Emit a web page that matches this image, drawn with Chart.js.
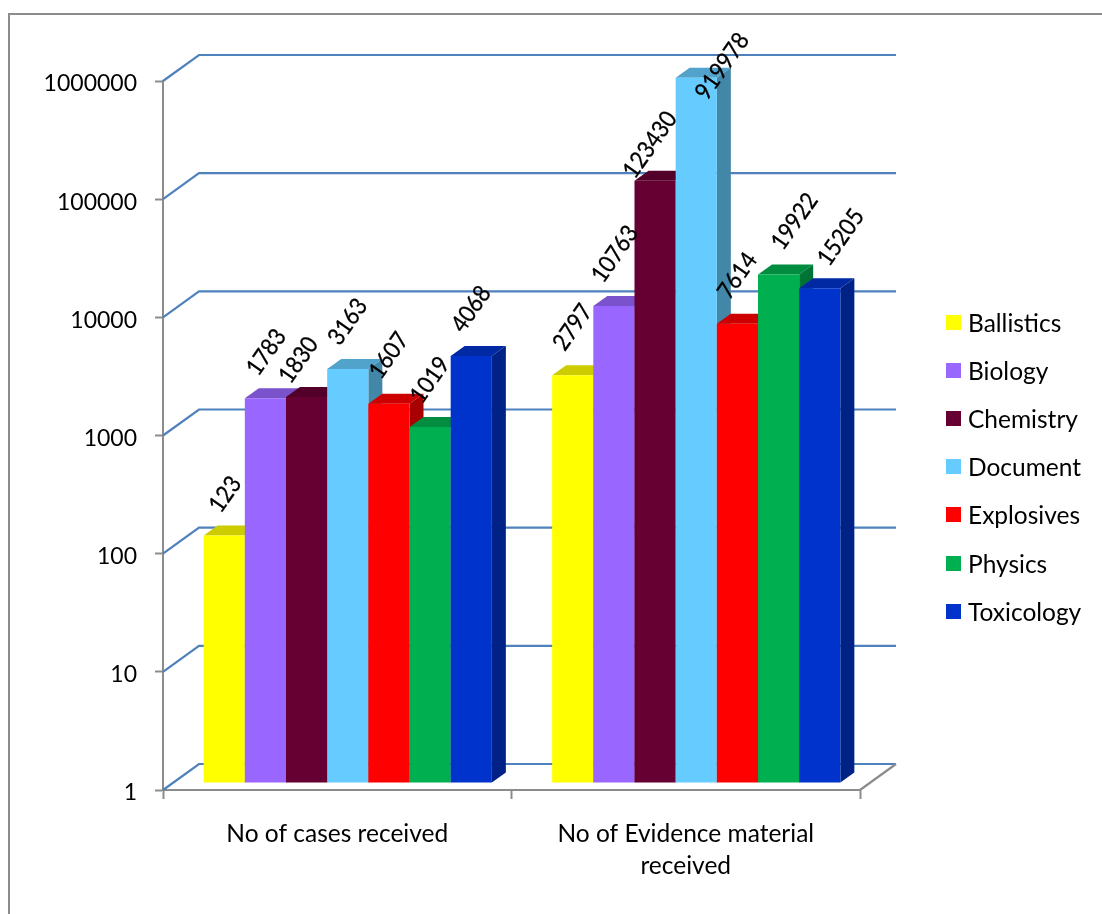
<!DOCTYPE html>
<html>
<head>
<meta charset="utf-8">
<title>Cases and evidence received</title>
<script src="https://cdn.jsdelivr.net/npm/chart.js@4"></script>
<style>
    html, body { margin: 0; padding: 0; background: #fff; }
    #wrap { position: relative; width: 1102px; height: 914px; overflow: hidden; }
    #frame { position: absolute; left: 8px; top: 13px; right: -4px; bottom: -4px;
             border: 2px solid #8c8c8c; }
    canvas { position: absolute; left: 0; top: 0; }
    #legend { position: absolute; left: 946px; top: 298px; margin: 0; padding: 0; list-style: none;
              font: 24.5px Lato, sans-serif; color: #000; }
    #legend li { display: flex; align-items: center; height: 48.2px; white-space: nowrap; }
    #legend span { display: inline-block; width: 15px; height: 15px; margin-right: 7px; }
</style>
</head>
<body>
<div id="wrap">
    <div id="frame"></div>
    <canvas id="chart" width="1102" height="914"></canvas>
    <ul id="legend"></ul>
</div>
<script>
const categories = ["No of cases received", ["No of Evidence material", "received"]];
const seriesNames = ["Ballistics", "Biology", "Chemistry", "Document", "Explosives", "Physics", "Toxicology"];
const ballistics = [123, 2797];
const biology = [1783, 10763];
const chemistry = [1830, 123430];
const documents = [3163, 919978];
const explosives = [1607, 7614];
const physics = [1019, 19922];
const toxicology = [4068, 15205];
const yTicks = [1, 10, 100, 1000, 10000, 100000, 1000000];

const seriesColours = ["#ffff00", "#9966ff", "#660033", "#66ccff", "#ff0000", "#00b050", "#0033cc"];
const fontFamily = "Lato, sans-serif";
const digitSize = 23;
const wordSize = 24.5;

// how far the back wall and the bars sit behind the axis plane
const wall = { dx: 36, dy: -26 };
const barShift = { dx: 10.5, dy: -7.5 };
const barDepth = { dx: 14, dy: -10 };

// hand placed value labels, [dx, dy] from the top centre of each bar
const labelNudges = [
    [[1, -41], [0, -48]],
    [[1, -46], [1, -52]],
    [[-8, -37], [-5, -36]],
    [[0, -47], [26, -11.5]],
    [[0, -48], [0, -48]],
    [[0, -47], [16, -53]],
    [[0, -47], [21, -51]]
];
const labelAngle = -55 * Math.PI / 180;

function shade(hex, factor) {
    const n = parseInt(hex.slice(1), 16);
    const r = Math.round((n >> 16 & 255) * factor);
    const g = Math.round((n >> 8 & 255) * factor);
    const b = Math.round((n & 255) * factor);
    return "rgb(" + r + "," + g + "," + b + ")";
}

function poly(ctx, points, colour) {
    ctx.fillStyle = colour;
    ctx.beginPath();
    points.forEach((p, i) => i ? ctx.lineTo(p[0], p[1]) : ctx.moveTo(p[0], p[1]));
    ctx.closePath();
    ctx.fill();
}

function drawWalls(chart) {
    const { ctx, chartArea, scales } = chart;
    ctx.save();
    ctx.lineWidth = 2.2;
    ctx.strokeStyle = "#4f81bd";
    yTicks.forEach(v => {
        const y = scales.y.getPixelForValue(v);
        ctx.beginPath();
        ctx.moveTo(chartArea.left, y);
        ctx.lineTo(chartArea.left + wall.dx, y + wall.dy);
        ctx.lineTo(chartArea.right + wall.dx, y + wall.dy);
        ctx.stroke();
    });
    // right hand edge of the floor
    ctx.strokeStyle = "#8c8c8c";
    ctx.beginPath();
    ctx.moveTo(chartArea.right, chartArea.bottom);
    ctx.lineTo(chartArea.right + wall.dx, chartArea.bottom + wall.dy);
    ctx.stroke();
    ctx.restore();
}

function drawBar3d(ctx, bar, colour) {
    const left = bar.x - bar.width / 2;
    const right = bar.x + bar.width / 2;
    const d = barDepth;
    poly(ctx, [[left, bar.y], [left + d.dx, bar.y + d.dy], [right + d.dx, bar.y + d.dy], [right, bar.y]], shade(colour, 0.8));
    poly(ctx, [[right, bar.y], [right + d.dx, bar.y + d.dy], [right + d.dx, bar.base + d.dy], [right, bar.base]], shade(colour, 0.66));
    bar.draw(ctx);
}

function drawValueLabels(chart) {
    const ctx = chart.ctx;
    ctx.font = "24px " + fontFamily;
    ctx.fillStyle = "#000";
    ctx.strokeStyle = "#000";
    ctx.lineWidth = 0.3;
    ctx.textAlign = "center";
    ctx.textBaseline = "middle";
    chart.data.datasets.forEach((ds, i) => {
        chart.getDatasetMeta(i).data.forEach((bar, j) => {
            const nudge = labelNudges[i][j];
            ctx.save();
            ctx.translate(bar.x + nudge[0], bar.y + nudge[1]);
            ctx.rotate(labelAngle);
            ctx.scale(0.9, 1);
            ctx.fillText(String(ds.data[j]), 0, 0);
            ctx.strokeText(String(ds.data[j]), 0, 0);
            ctx.restore();
        });
    });
}

// Bars have to stack left to right so each one hides the side of the one before it,
// so the default dataset pass is replaced.
const bars3d = {
    id: "bars3d",
    beforeDatasetsDraw(chart) {
        const ctx = chart.ctx;
        drawWalls(chart);
        ctx.save();
        ctx.translate(barShift.dx, barShift.dy);
        chart.data.datasets.forEach((ds, i) => {
            chart.getDatasetMeta(i).data.forEach(bar => drawBar3d(ctx, bar, ds.backgroundColor));
        });
        drawValueLabels(chart);
        ctx.restore();
        return false;
    }
};

const seriesValues = [ballistics, biology, chemistry, documents, explosives, physics, toxicology];

const chart = new Chart(document.getElementById("chart"), {
    type: "bar",
    data: {
        labels: categories,
        datasets: seriesNames.map((name, i) => ({
            label: name,
            data: seriesValues[i],
            backgroundColor: seriesColours[i],
            borderWidth: 0,
            categoryPercentage: 0.827,
            barPercentage: 1
        }))
    },
    plugins: [bars3d],
    options: {
        responsive: false,
        animation: false,
        layout: { padding: { top: 81, right: 242, left: 0, bottom: 0 } },
        plugins: { legend: { display: false }, tooltip: { enabled: false } },
        scales: {
            x: {
                afterFit: s => { s.height = 124; },
                border: { color: "#8c8c8c", width: 2 },
                grid: { drawOnChartArea: false, tickColor: "#8c8c8c", tickWidth: 2, tickLength: 9 },
                ticks: {
                    color: "#000",
                    padding: 19,
                    maxRotation: 0,
                    font: { family: fontFamily, size: wordSize, lineHeight: 32 / wordSize }
                }
            },
            y: {
                type: "logarithmic",
                min: 1,
                max: 1000000,
                afterFit: s => { s.width = 163; },
                afterBuildTicks: s => { s.ticks = yTicks.map(value => ({ value })); },
                border: { color: "#8c8c8c", width: 2 },
                grid: { drawOnChartArea: false, tickColor: "#8c8c8c", tickWidth: 2, tickLength: 8 },
                ticks: {
                    color: "#000",
                    padding: 18,
                    labelOffset: 3,
                    autoSkip: false,
                    font: { family: fontFamily, size: digitSize },
                    callback: v => String(v)
                }
            }
        }
    }
});

// legend sits in its own list at the right
const legendList = document.getElementById("legend");
chart.data.datasets.forEach(ds => {
    const li = document.createElement("li");
    const box = document.createElement("span");
    box.style.background = ds.backgroundColor;
    li.appendChild(box);
    li.appendChild(document.createTextNode(ds.label));
    legendList.appendChild(li);
});
</script>
</body>
</html>
